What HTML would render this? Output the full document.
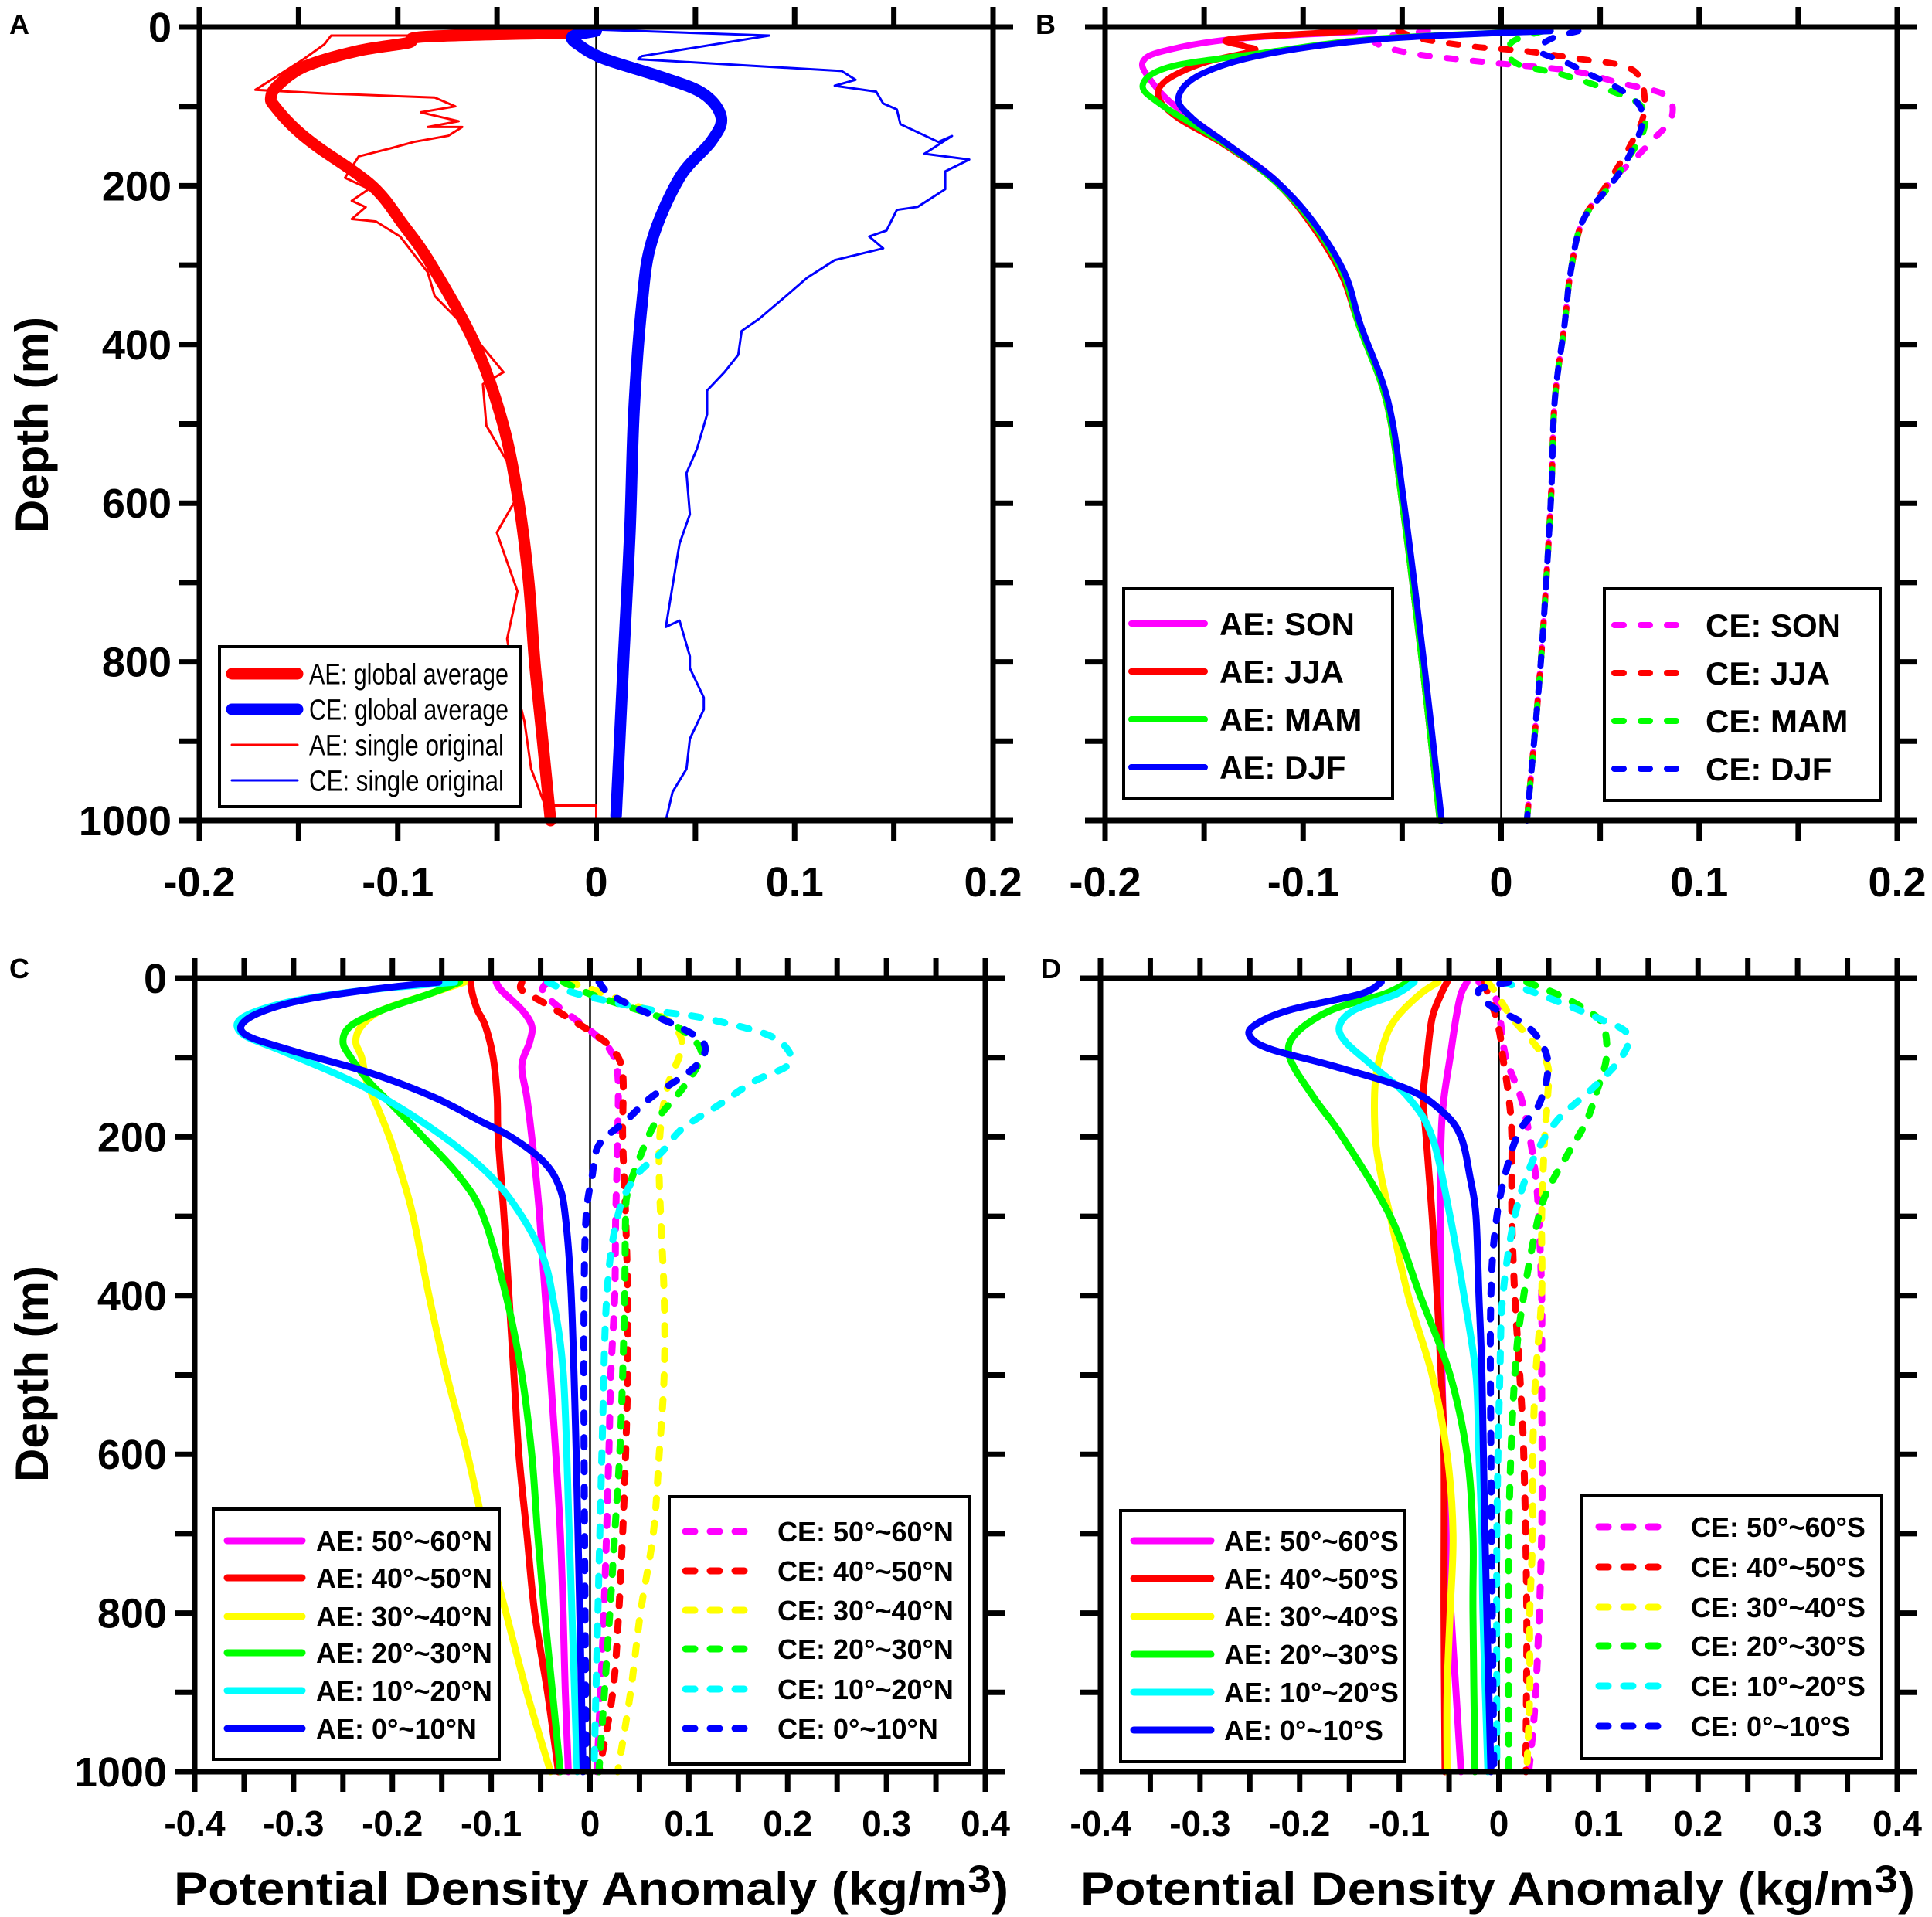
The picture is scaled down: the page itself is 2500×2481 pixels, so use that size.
<!DOCTYPE html>
<html><head><meta charset="utf-8"><style>
html,body{margin:0;padding:0;background:#fff;}
svg{display:block;}
text{font-family:"Liberation Sans",Arial,sans-serif;}
</style></head><body>
<svg id="fig" width="2500" height="2481" viewBox="0 0 2500 2481" xmlns="http://www.w3.org/2000/svg">
<rect width="2500" height="2481" fill="#fff"/>
<g id="layer"></g>
</svg>
<script>
// ===== Panel A data =====
const A_AEavg_d=[7,12,20,30,50,75,90,100,125,150,200,250,300,400,500,600,700,800,900,1000];
const A_AEavg_v=[-0.006,-0.085,-0.095,-0.12,-0.147,-0.161,-0.164,-0.162,-0.153,-0.141,-0.113,-0.097,-0.083,-0.061,-0.047,-0.039,-0.034,-0.031,-0.027,-0.023];
const A_CEavg_d=[5,12,24,40,63,84,114,144,190,270,350,485,636,786,994];
const A_CEavg_v=[0.0,-0.012,-0.008,0.004,0.033,0.054,0.063,0.058,0.042,0.028,0.023,0.019,0.017,0.014,0.010];
const A_AEsgl_d=[10.7,10.7,21.8,40.5,62.8,79.2,81.4,83.7,85.2,88.9,100,107.5,118.7,126,126,137,144.8,152,163,190,204,219,227,242,245,264,309,339,383,435,450,502,555,599,637,674,711,771,823,875,935,981,981,1000];
const A_AEsgl_v=[-0.0067,-0.1336,-0.137,-0.1475,-0.1614,-0.1718,-0.1545,-0.137,-0.1197,-0.0814,-0.071,-0.0884,-0.0693,-0.0849,-0.0675,-0.0745,-0.0919,-0.1023,-0.1197,-0.1266,-0.1145,-0.1232,-0.1162,-0.1232,-0.111,-0.0988,-0.0849,-0.0814,-0.064,-0.0467,-0.0571,-0.0554,-0.0432,-0.0414,-0.0501,-0.0449,-0.0397,-0.0449,-0.0414,-0.0362,-0.0328,-0.0258,0,0];
const A_CEsgl_d=[3.2,10.7,36.7,40.5,55.4,66.5,74,81.4,96.3,103.8,122.4,144.8,137.3,159.7,167,182,204.4,226.7,230.5,256.5,264,278.9,293.8,316,338.5,368,383,413,435,458,488,532,562,614,651,704,756,748,793,808,845,860,897,935,964,1000];
const A_CEsgl_v=[0,0.0872,0.0229,0.0211,0.1237,0.1307,0.1202,0.1411,0.1446,0.1515,0.1533,0.1724,0.1793,0.1654,0.188,0.1759,0.1759,0.162,0.1515,0.1463,0.1376,0.1446,0.1202,0.1063,0.0959,0.082,0.0733,0.0716,0.0646,0.0559,0.0559,0.0507,0.0455,0.0472,0.042,0.0385,0.0351,0.042,0.0472,0.0472,0.0542,0.0542,0.0472,0.0455,0.0385,0.0351];
// ===== Panel B data =====
const B_AE_SON_d=[5,15,30,44,67,99,148,193,245,310,375,472,600,800,1000];
const B_AE_SON_v=[-0.064,-0.134,-0.17,-0.181,-0.177,-0.165,-0.138,-0.114,-0.096,-0.08,-0.072,-0.058,-0.05,-0.04,-0.031];
const B_AE_JJA_d=[5,15,24,30,45,67,89,115,148,193,245,310,375,472,600,800,1000];
const B_AE_JJA_v=[-0.074,-0.136,-0.13,-0.125,-0.15,-0.169,-0.173,-0.163,-0.14,-0.115,-0.097,-0.081,-0.072,-0.058,-0.05,-0.04,-0.031];
const B_AE_MAM_d=[5,15,34,50,73,99,148,193,245,310,375,472,600,800,1000];
const B_AE_MAM_v=[0.025,-0.064,-0.124,-0.167,-0.181,-0.171,-0.139,-0.115,-0.096,-0.08,-0.072,-0.058,-0.05,-0.04,-0.031];
const B_AE_DJF_d=[5,15,35,60,89,115,148,193,245,310,375,472,600,800,1000];
const B_AE_DJF_v=[0.025,-0.06,-0.12,-0.152,-0.163,-0.156,-0.138,-0.114,-0.095,-0.079,-0.071,-0.057,-0.049,-0.039,-0.03];
const B_CE_SON_d=[5,16,32,44,55,70,86,115,141,167,196,245,310,375,472,600,800,1000];
const B_CE_SON_v=[-0.037,-0.064,-0.048,-0.009,0.035,0.059,0.083,0.086,0.077,0.067,0.055,0.041,0.035,0.032,0.027,0.025,0.02,0.013];
const B_CE_JJA_d=[5,15,25,30,40,50,70,110,150,200,245,310,375,472,600,800,1000];
const B_CE_JJA_v=[-0.052,-0.04,-0.013,0.011,0.039,0.063,0.071,0.072,0.065,0.053,0.041,0.035,0.032,0.027,0.025,0.02,0.013];
const B_CE_MAM_d=[5,20,45,60,80,100,130,170,200,245,310,375,472,600,800,1000];
const B_CE_MAM_v=[0.021,0.005,0.007,0.031,0.055,0.071,0.072,0.063,0.055,0.041,0.035,0.032,0.027,0.025,0.02,0.013];
const B_CE_DJF_d=[5,15,30,45,60,80,100,125,170,200,245,310,375,472,600,800,1000];
const B_CE_DJF_v=[0.039,0.025,0.019,0.033,0.045,0.061,0.07,0.071,0.063,0.055,0.041,0.035,0.032,0.027,0.025,0.02,0.013];
// ===== Panel C data =====
const C_AE_5060_d=[5,15,40,60,80,110,150,200,300,500,700,900,1000];
const C_AE_5060_v=[-0.095,-0.09,-0.069,-0.059,-0.061,-0.069,-0.064,-0.059,-0.051,-0.04,-0.03,-0.025,-0.022];
const C_AE_4050_d=[5,20,40,60,100,150,200,300,400,500,600,700,800,900,1000];
const C_AE_4050_v=[-0.121,-0.119,-0.114,-0.106,-0.098,-0.094,-0.093,-0.087,-0.082,-0.077,-0.072,-0.064,-0.056,-0.043,-0.032];
const C_AE_3040_d=[5,20,40,60,80,100,130,160,200,250,300,400,500,600,700,800,900,1000];
const C_AE_3040_v=[-0.127,-0.163,-0.21,-0.231,-0.237,-0.231,-0.226,-0.216,-0.203,-0.19,-0.179,-0.163,-0.145,-0.124,-0.106,-0.085,-0.064,-0.04];
const C_AE_2030_d=[5,20,40,60,80,100,130,160,200,250,300,400,500,600,700,800,900,1000];
const C_AE_2030_v=[-0.132,-0.163,-0.21,-0.242,-0.25,-0.242,-0.224,-0.2,-0.169,-0.132,-0.108,-0.085,-0.069,-0.059,-0.053,-0.046,-0.038,-0.03];
const C_AE_1020_d=[5,15,30,50,70,90,120,150,200,250,300,350,400,500,700,1000];
const C_AE_1020_v=[-0.137,-0.226,-0.305,-0.352,-0.352,-0.315,-0.258,-0.21,-0.148,-0.1,-0.069,-0.048,-0.038,-0.027,-0.021,-0.013];
const C_AE_0010_d=[5,15,30,50,70,90,120,150,180,200,230,260,300,400,600,1000];
const C_AE_0010_v=[-0.153,-0.226,-0.3,-0.345,-0.35,-0.305,-0.221,-0.158,-0.111,-0.08,-0.048,-0.032,-0.025,-0.019,-0.014,-0.007];
const C_CE_5060_d=[5,15,30,50,70,90,120,200,300,400,500,600,800,1000];
const C_CE_5060_v=[-0.043,-0.048,-0.038,-0.017,0.004,0.02,0.028,0.028,0.026,0.025,0.021,0.019,0.014,0.007];
const C_CE_4050_d=[5,15,30,50,70,90,120,200,300,400,500,600,700,800,900,1000];
const C_CE_4050_v=[-0.069,-0.069,-0.048,-0.022,0.004,0.023,0.033,0.033,0.036,0.038,0.038,0.036,0.033,0.029,0.023,0.009];
const C_CE_3040_d=[5,15,30,45,60,80,100,130,180,250,400,500,600,700,800,900,1000];
const C_CE_3040_v=[-0.022,0.004,0.036,0.067,0.085,0.093,0.09,0.08,0.072,0.07,0.075,0.075,0.07,0.064,0.051,0.041,0.028];
const C_CE_2030_d=[5,20,35,50,70,90,110,140,180,230,270,300,400,500,600,700,800,1000];
const C_CE_2030_v=[-0.027,0,0.036,0.072,0.098,0.112,0.109,0.093,0.067,0.049,0.038,0.036,0.035,0.033,0.03,0.025,0.02,0.009];
const C_CE_1020_d=[5,20,40,50,70,90,110,130,160,190,220,250,300,400,600,1000];
const C_CE_1020_v=[-0.043,-0.012,0.062,0.114,0.177,0.2,0.2,0.166,0.13,0.093,0.072,0.046,0.028,0.017,0.012,0.004];
const C_CE_0010_d=[5,20,40,60,80,100,120,150,180,210,250,300,400,600,1000];
const C_CE_0010_v=[0.009,0.02,0.051,0.088,0.114,0.114,0.098,0.062,0.036,0.009,0.002,-0.004,-0.006,-0.006,-0.004];
// ===== Panel D data =====
const D_AE_5060_d=[5,20,50,100,150,200,300,500,700,800,900,1000];
const D_AE_5060_v=[-0.032,-0.038,-0.043,-0.049,-0.055,-0.058,-0.059,-0.057,-0.052,-0.048,-0.043,-0.038];
const D_AE_4050_d=[5,20,50,100,150,200,300,400,500,600,800,1000];
const D_AE_4050_v=[-0.052,-0.058,-0.067,-0.072,-0.076,-0.073,-0.067,-0.062,-0.058,-0.055,-0.055,-0.054];
const D_AE_3040_d=[5,20,50,80,130,200,250,300,400,500,600,700,800,900,1000];
const D_AE_3040_v=[-0.061,-0.079,-0.103,-0.115,-0.124,-0.124,-0.118,-0.109,-0.091,-0.067,-0.052,-0.046,-0.049,-0.052,-0.052];
const D_AE_2030_d=[5,20,40,70,100,150,200,300,400,500,600,700,800,1000];
const D_AE_2030_v=[-0.091,-0.115,-0.168,-0.204,-0.21,-0.186,-0.157,-0.109,-0.079,-0.049,-0.032,-0.026,-0.026,-0.024];
const D_AE_1020_d=[5,20,40,60,80,110,150,200,300,400,500,600,700,800,1000];
const D_AE_1020_v=[-0.085,-0.103,-0.145,-0.16,-0.154,-0.127,-0.091,-0.067,-0.049,-0.035,-0.023,-0.02,-0.017,-0.016,-0.011];
const D_AE_0010_d=[5,20,40,60,75,90,110,140,170,200,250,300,400,500,700,1000];
const D_AE_0010_v=[-0.118,-0.139,-0.21,-0.246,-0.249,-0.228,-0.168,-0.091,-0.055,-0.038,-0.029,-0.023,-0.02,-0.017,-0.014,-0.008];
const D_CE_5060_d=[5,20,50,100,150,200,250,300,400,500,700,900,1000];
const D_CE_5060_v=[-0.02,-0.005,0.001,0.007,0.022,0.031,0.037,0.04,0.043,0.043,0.043,0.037,0.03];
const D_CE_4050_d=[5,20,40,70,100,150,200,300,400,500,600,800,1000];
const D_CE_4050_v=[-0.014,-0.011,-0.005,0.001,0.004,0.01,0.013,0.013,0.016,0.021,0.025,0.028,0.027];
const D_CE_3040_d=[5,20,50,80,110,150,200,300,400,500,600,700,800,900,1000];
const D_CE_3040_v=[-0.011,-0.002,0.013,0.034,0.049,0.049,0.046,0.043,0.043,0.037,0.034,0.034,0.031,0.031,0.028];
const D_CE_2030_d=[5,20,40,60,100,140,180,220,260,300,400,500,700,1000];
const D_CE_2030_v=[0.028,0.058,0.088,0.105,0.108,0.099,0.088,0.07,0.052,0.04,0.025,0.016,0.01,0.01];
const D_CE_1020_d=[5,20,50,70,100,140,180,230,300,400,500,700,1000];
const D_CE_1020_v=[0.004,0.04,0.099,0.129,0.123,0.093,0.058,0.034,0.016,0.004,0.001,-0.002,-0.002];
const D_CE_0010_d=[5,15,35,60,90,120,160,190,230,300,400,600,1000];
const D_CE_0010_v=[0.01,-0.02,-0.008,0.028,0.046,0.049,0.04,0.022,0.01,-0.002,-0.008,-0.008,-0.005];

// ===== tick label arrays =====
const xTicksAB=[-0.2,-0.1,0,0.1,0.2];
const xTicksCD=[-0.4,-0.3,-0.2,-0.1,0,0.1,0.2,0.3,0.4];
const yTicks=[0,200,400,600,800,1000];

const NS='http://www.w3.org/2000/svg';
const layer=document.getElementById('layer');
function mk(tag,attrs,parent){const e=document.createElementNS(NS,tag);for(const k in attrs)e.setAttribute(k,attrs[k]);(parent||layer).appendChild(e);return e;}

const panels=[
 {id:'a',x0:258,x1:1285,y0:35,y1:1062,xmin:-0.2,xmax:0.2,xt:xTicksAB,minor:0.05,fs:54,xly:1160,letter:'A',lx:12,ly:44,ylab:true},
 {id:'b',x0:1430,x1:2455,y0:35,y1:1062,xmin:-0.2,xmax:0.2,xt:xTicksAB,minor:0.05,fs:54,xly:1160,letter:'B',lx:1340,ly:44,ylab:false},
 {id:'c',x0:252,x1:1275,y0:1266,y1:2293,xmin:-0.4,xmax:0.4,xt:xTicksCD,minor:0.05,fs:46,xly:2376,letter:'C',lx:12,ly:1266,ylab:true},
 {id:'d',x0:1424,x1:2455,y0:1266,y1:2293,xmin:-0.4,xmax:0.4,xt:xTicksCD,minor:0.05,fs:46,xly:2376,letter:'D',lx:1347,ly:1266,ylab:false}
];
function sx(p,v){return p.x0+(v-p.xmin)/(p.xmax-p.xmin)*(p.x1-p.x0);}
function sy(p,d){return p.y0+d/1000*(p.y1-p.y0);}
function smoothPath(pts){
 let s='M'+pts[0][0].toFixed(1)+','+pts[0][1].toFixed(1);
 for(let i=0;i<pts.length-1;i++){
  const p0=pts[i-1]||pts[i],p1=pts[i],p2=pts[i+1],p3=pts[i+2]||p2;
  const c1=[p1[0]+(p2[0]-p0[0])/6,p1[1]+(p2[1]-p0[1])/6];
  const c2=[p2[0]-(p3[0]-p1[0])/6,p2[1]-(p3[1]-p1[1])/6];
  s+='C'+c1[0].toFixed(1)+','+c1[1].toFixed(1)+' '+c2[0].toFixed(1)+','+c2[1].toFixed(1)+' '+p2[0].toFixed(1)+','+p2[1].toFixed(1);
 }
 return s;
}
function linePath(pts){return 'M'+pts.map(q=>q[0].toFixed(1)+','+q[1].toFixed(1)).join('L');}
function series(p,d,v,color,w,dash,smooth,name,cap){
 const pts=d.map((dd,i)=>[sx(p,v[i]),sy(p,dd)]);
 const a={d:smooth?smoothPath(pts):linePath(pts),fill:'none',stroke:color,'stroke-width':w,'stroke-linecap':cap||'round','stroke-linejoin':'round'};
 if(dash)a['stroke-dasharray']=dash;
 const e=mk('path',a,p.g);
 
 
}
panels.forEach(p=>{
 p.g=mk('g',{});
 
 
 const z=mk('line',{x1:sx(p,0),x2:sx(p,0),y1:p.y0,y2:p.y1,stroke:'#000','stroke-width':2.5},p.g);
 
 
});
const [PA,PB,PC,PD]=panels;
const MAG='#ff00ff',RED='#ff0000',YEL='#ffff00',GRN='#00ff00',CYN='#00ffff',BLU='#0000ff';
series(PA,A_AEsgl_d,A_AEsgl_v,RED,3,null,false,'ae-single-original-line','butt');
series(PA,A_CEsgl_d,A_CEsgl_v,BLU,3,null,false,'ce-single-original-line','butt');
series(PA,A_AEavg_d,A_AEavg_v,RED,15,null,true,'ae-global-average-line');
series(PA,A_CEavg_d,A_CEavg_v,BLU,15,null,true,'ce-global-average-line');
const dB='12 22';
series(PB,B_CE_SON_d,B_CE_SON_v,MAG,8,dB,true,'ce-son-line');
series(PB,B_CE_JJA_d,B_CE_JJA_v,RED,8,dB,true,'ce-jja-line');
series(PB,B_CE_MAM_d,B_CE_MAM_v,GRN,8,dB,true,'ce-mam-line');
series(PB,B_CE_DJF_d,B_CE_DJF_v,BLU,8,dB,true,'ce-djf-line');
series(PB,B_AE_SON_d,B_AE_SON_v,MAG,8,null,true,'ae-son-line');
series(PB,B_AE_JJA_d,B_AE_JJA_v,RED,8,null,true,'ae-jja-line');
series(PB,B_AE_MAM_d,B_AE_MAM_v,GRN,8,null,true,'ae-mam-line');
series(PB,B_AE_DJF_d,B_AE_DJF_v,BLU,8,null,true,'ae-djf-line');
const dC='12 20';
series(PC,C_CE_5060_d,C_CE_5060_v,MAG,9,dC,true,'ce-50-60n-line');
series(PC,C_CE_4050_d,C_CE_4050_v,RED,9,dC,true,'ce-40-50n-line');
series(PC,C_CE_3040_d,C_CE_3040_v,YEL,9,dC,true,'ce-30-40n-line');
series(PC,C_CE_2030_d,C_CE_2030_v,GRN,9,dC,true,'ce-20-30n-line');
series(PC,C_CE_1020_d,C_CE_1020_v,CYN,9,dC,true,'ce-10-20n-line');
series(PC,C_CE_0010_d,C_CE_0010_v,BLU,9,dC,true,'ce-0-10n-line');
series(PC,C_AE_5060_d,C_AE_5060_v,MAG,9,null,true,'ae-50-60n-line');
series(PC,C_AE_4050_d,C_AE_4050_v,RED,9,null,true,'ae-40-50n-line');
series(PC,C_AE_3040_d,C_AE_3040_v,YEL,9,null,true,'ae-30-40n-line');
series(PC,C_AE_2030_d,C_AE_2030_v,GRN,9,null,true,'ae-20-30n-line');
series(PC,C_AE_1020_d,C_AE_1020_v,CYN,9,null,true,'ae-10-20n-line');
series(PC,C_AE_0010_d,C_AE_0010_v,BLU,9,null,true,'ae-0-10n-line');
series(PD,D_CE_5060_d,D_CE_5060_v,MAG,9,dC,true,'ce-50-60s-line');
series(PD,D_CE_4050_d,D_CE_4050_v,RED,9,dC,true,'ce-40-50s-line');
series(PD,D_CE_3040_d,D_CE_3040_v,YEL,9,dC,true,'ce-30-40s-line');
series(PD,D_CE_2030_d,D_CE_2030_v,GRN,9,dC,true,'ce-20-30s-line');
series(PD,D_CE_1020_d,D_CE_1020_v,CYN,9,dC,true,'ce-10-20s-line');
series(PD,D_CE_0010_d,D_CE_0010_v,BLU,9,dC,true,'ce-0-10s-line');
series(PD,D_AE_5060_d,D_AE_5060_v,MAG,9,null,true,'ae-50-60s-line');
series(PD,D_AE_4050_d,D_AE_4050_v,RED,9,null,true,'ae-40-50s-line');
series(PD,D_AE_3040_d,D_AE_3040_v,YEL,9,null,true,'ae-30-40s-line');
series(PD,D_AE_2030_d,D_AE_2030_v,GRN,9,null,true,'ae-20-30s-line');
series(PD,D_AE_1020_d,D_AE_1020_v,CYN,9,null,true,'ae-10-20s-line');
series(PD,D_AE_0010_d,D_AE_0010_v,BLU,9,null,true,'ae-0-10s-line');

panels.forEach(p=>{
 const g=mk('g',{});
 
 
 const T=26;
 for(let v=p.xmin;v<=p.xmax+1e-9;v+=p.minor){
  const x=sx(p,v);
  mk('line',{x1:x,x2:x,y1:p.y0-T,y2:p.y0,stroke:'#000','stroke-width':7},g);
  mk('line',{x1:x,x2:x,y1:p.y1,y2:p.y1+T,stroke:'#000','stroke-width':7},g);
 }
 for(let d=0;d<=1000;d+=100){
  const y=sy(p,d);
  mk('line',{x1:p.x0-T,x2:p.x0,y1:y,y2:y,stroke:'#000','stroke-width':7},g);
  mk('line',{x1:p.x1,x2:p.x1+T,y1:y,y2:y,stroke:'#000','stroke-width':7},g);
 }
 const fr=mk('rect',{x:p.x0,y:p.y0,width:p.x1-p.x0,height:p.y1-p.y0,fill:'none',stroke:'#000','stroke-width':7},g);
 
 
 p.xt.forEach(v=>{
  const t=mk('text',{x:sx(p,v),y:p.xly,'font-size':p.fs,'font-weight':'bold','text-anchor':'middle'},g);
  t.textContent=(v===0?'0':String(v));
  
  
 });
 if(p.ylab){
  yTicks.forEach(d=>{
   const t=mk('text',{x:p.x0-36,y:sy(p,d)+19,'font-size':54,'font-weight':'bold','text-anchor':'end'},g);
   t.textContent=String(d);
   
   
  });
 }
 const L=mk('text',{x:p.lx,y:p.ly,'font-size':36,'font-weight':'bold'},g);
 L.textContent=p.letter;
 
 
});
[[PA,550],[PC,1778]].forEach(([p,cy])=>{
 const t=mk('text',{x:0,y:0,'font-size':60,'font-weight':'bold','text-anchor':'middle',transform:'translate(62,'+cy+') rotate(-90)'});
 t.textContent='Depth (m)';
 
 
});
[[PC,765],[PD,1938]].forEach(([p,cx])=>{
 const t=mk('text',{x:cx,y:2465,'font-size':60,'font-weight':'bold','text-anchor':'middle',textLength:1080,lengthAdjust:'spacingAndGlyphs'});
 t.innerHTML='Potential Density Anomaly (kg/m<tspan dy="-16" font-size="50">3</tspan><tspan dy="16">)</tspan>';
 
 
});
function legend(name,box,entries,lx1,lx2,tx,fs,bold,tl){
 const g=mk('g',{});
 
 
 mk('rect',{x:box[0],y:box[1],width:box[2]-box[0],height:box[3]-box[1],fill:'#fff',stroke:'#000','stroke-width':4},g);
 entries.forEach(en=>{
  const a={x1:lx1,x2:lx2,y1:en.y,y2:en.y,stroke:en.c,'stroke-width':en.w,'stroke-linecap':'round'};
  if(en.dash)a['stroke-dasharray']=en.dash;
  const ln=mk('line',a,g);
  
  
  const ta={x:tx,y:en.y+fs*0.36,'font-size':fs,'font-weight':bold?'bold':'normal'};
  if(tl){ta.textLength=en.tl;ta.lengthAdjust='spacingAndGlyphs';}
  const t=mk('text',ta,g);
  t.textContent=en.t;
  
  
 });
}
legend('legend-a',[284,837,673,1044],[
 {y:872,c:RED,w:15,t:'AE: global average',tl:258},
 {y:918,c:BLU,w:15,t:'CE: global average',tl:258},
 {y:964,c:RED,w:3,t:'AE: single original',tl:252},
 {y:1010,c:BLU,w:3,t:'CE: single original',tl:252}],300,385,400,38,false,true);
legend('legend-b-ae',[1454,762,1802,1033],[
 {y:807,c:MAG,w:8,t:'AE: SON'},{y:869,c:RED,w:8,t:'AE: JJA'},{y:931,c:GRN,w:8,t:'AE: MAM'},{y:993,c:BLU,w:8,t:'AE: DJF'}],1464,1559,1578,42,true,false);
legend('legend-b-ce',[2076,762,2433,1036],[
 {y:809,c:MAG,w:8,dash:'12 22',t:'CE: SON'},{y:871,c:RED,w:8,dash:'12 22',t:'CE: JJA'},{y:933,c:GRN,w:8,dash:'12 22',t:'CE: MAM'},{y:995,c:BLU,w:8,dash:'12 22',t:'CE: DJF'}],2089,2181,2207,42,true,false);
const nLab=['50°~60°N','40°~50°N','30°~40°N','20°~30°N','10°~20°N','0°~10°N'];
const sLab=['50°~60°S','40°~50°S','30°~40°S','20°~30°S','10°~20°S','0°~10°S'];
const cols=[MAG,RED,YEL,GRN,CYN,BLU];
legend('legend-c-ae',[276,1953,646,2277],[1994,2042,2092,2139,2188,2237].map((y,i)=>({y:y,c:cols[i],w:9,t:'AE: '+nLab[i]})),294,391,409,36,true,false);
legend('legend-c-ce',[866,1937,1255,2283],[1982,2033,2084,2134,2186,2237].map((y,i)=>({y:y,c:cols[i],w:9,dash:'12 20',t:'CE: '+nLab[i]})),887,970,1006,36,true,false);
legend('legend-d-ae',[1450,1955,1818,2280],[1994,2043,2092,2141,2190,2239].map((y,i)=>({y:y,c:cols[i],w:9,t:'AE: '+sLab[i]})),1467,1567,1584,36,true,false);
legend('legend-d-ce',[2046,1935,2435,2276],[1976,2028,2080,2130,2182,2234].map((y,i)=>({y:y,c:cols[i],w:9,dash:'12 20',t:'CE: '+sLab[i]})),2069,2152,2188,36,true,false);
</script>
</body></html>
